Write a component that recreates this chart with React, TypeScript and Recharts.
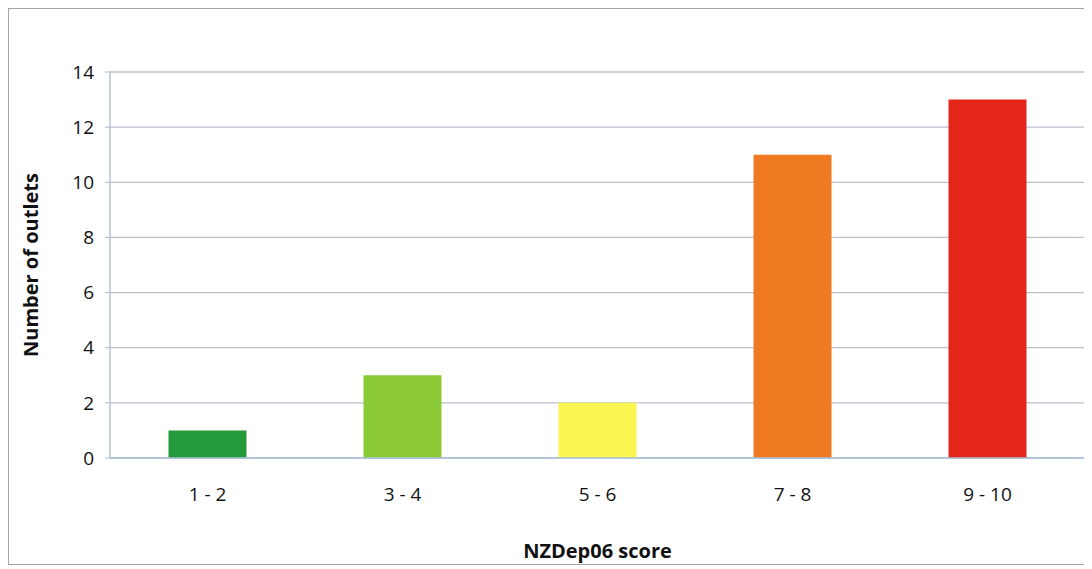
import React from 'react';
import { BarChart, Bar, XAxis, YAxis, CartesianGrid, Cell } from 'recharts';

const categories = ['1 - 2', '3 - 4', '5 - 6', '7 - 8', '9 - 10'];
const outlets = [1, 3, 2, 11, 13];
const barColors = ['#259a3c', '#8ccb37', '#f9f551', '#f07a21', '#e4261a'];
const yTicks = [0, 2, 4, 6, 8, 10, 12, 14];
const boundaryTicks = [0, 1, 2, 3, 4, 5];

const data = categories.map((name, i) => ({ name, value: outlets[i] }));

const font = "'Open Sans', 'Liberation Sans', sans-serif";

export default function App() {
  return (
    <div
      style={{
        width: 1084,
        height: 557,
        borderLeft: '1.5px solid #a5a5a5',
        borderTop: '1.5px solid #a5a5a5',
        borderBottom: '1.5px solid #a5a5a5',
        boxSizing: 'border-box',
        background: '#fff',
        fontFamily: font,
      }}
    >
      <BarChart
        width={1084}
        height={557}
        data={data}
        margin={{ top: 63, right: 8, bottom: 0, left: 0 }}
        barCategoryGap="30%"
      >
        <CartesianGrid vertical={false} stroke="#b9c0cc" strokeWidth={1.3} />
        <XAxis
          dataKey="name"
          height={108}
          tickLine={false}
          axisLine={{ stroke: '#a9c0d8', strokeWidth: 1.5 }}
          tickMargin={24}
          tick={{ fontSize: 19, fill: '#111', fontFamily: font }}
          label={{
            value: 'NZDep06 score',
            position: 'insideBottom',
            offset: 8,
            style: { fontSize: 20, fontWeight: 700, fill: '#111', fontFamily: font },
          }}
        />
        <XAxis
          xAxisId="bounds"
          type="number"
          domain={[0, 5]}
          ticks={boundaryTicks}
          height={0}
          axisLine={false}
          tick={false}
          tickSize={6}
          tickLine={{ stroke: '#a0a8b4' }}
          orientation="bottom"
        />
        <YAxis
          width={101}
          domain={[0, 14]}
          ticks={yTicks}
          interval={0}
          axisLine={{ stroke: '#b0b8c8', strokeWidth: 1.3 }}
          tickLine={{ stroke: '#b0b8c8' }}
          tickSize={5}
          tickMargin={11}
          tick={{ fontSize: 19, fill: '#111', fontFamily: font }}
          label={{
            value: 'Number of outlets',
            angle: -90,
            position: 'insideLeft',
            offset: 22,
            style: { fontSize: 20, fontWeight: 700, fill: '#111', fontFamily: font, textAnchor: 'middle' },
          }}
        />
        <Bar dataKey="value" isAnimationActive={false}>
          {data.map((d, i) => (
            <Cell key={d.name} fill={barColors[i]} />
          ))}
        </Bar>
      </BarChart>
    </div>
  );
}
